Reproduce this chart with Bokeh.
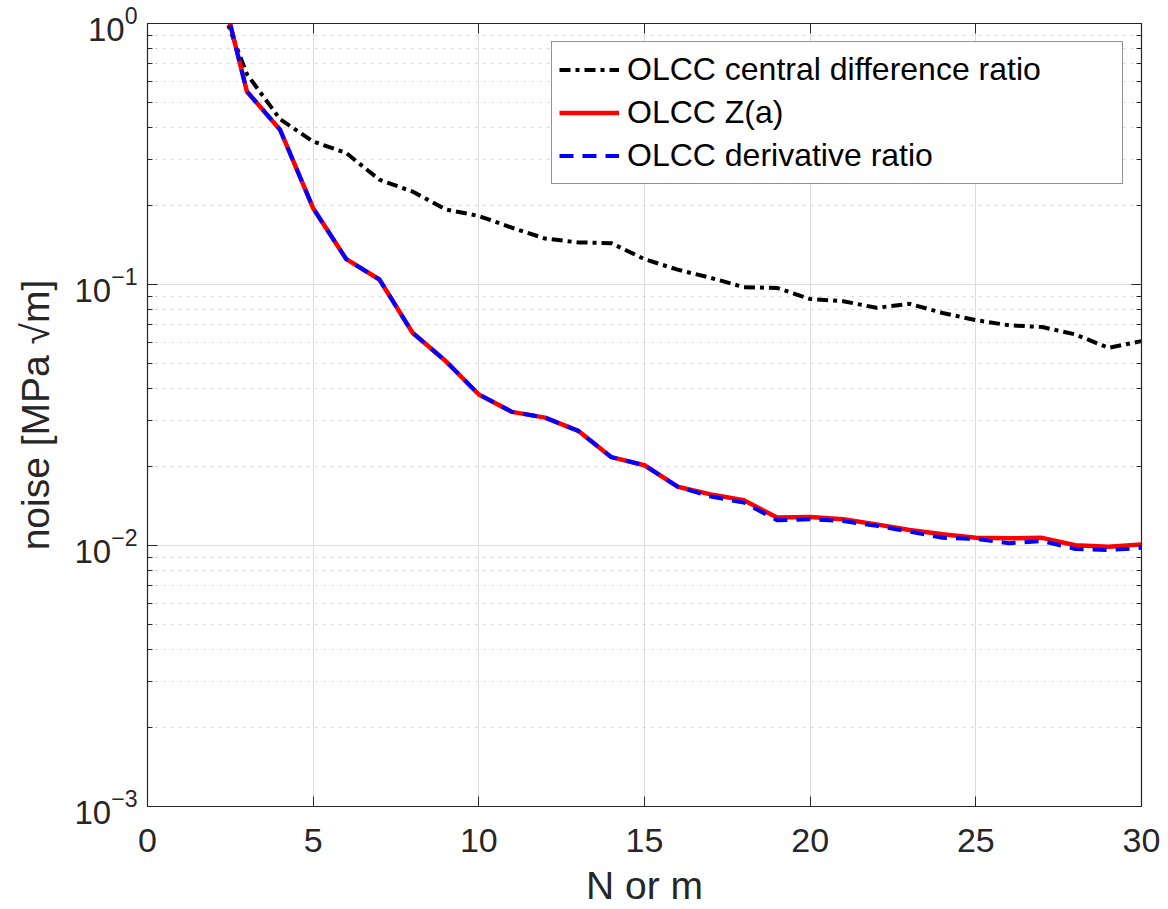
from bokeh.plotting import figure
from bokeh.models import (Range1d, FixedTicker, LogAxis, LinearAxis, LogTickFormatter,
                          CustomJSTickFormatter, Legend, LegendItem)
from bokeh.embed import file_html
from bokeh.resources import INLINE

# ---- data ----
N = list(range(2, 31))
central_diff = [1.38, 0.64, 0.43, 0.353, 0.319, 0.252, 0.227, 0.194, 0.183, 0.165,
                0.150, 0.145, 0.144, 0.125, 0.114, 0.106, 0.0977, 0.097, 0.088, 0.0863,
                0.0814, 0.0843, 0.0778, 0.073, 0.0698, 0.0687, 0.0644, 0.0572, 0.0607]
z_a = [1.78, 0.549, 0.392, 0.196, 0.125, 0.1045, 0.0653, 0.0509, 0.0379, 0.0325,
       0.0309, 0.0275, 0.0218, 0.0203, 0.0168, 0.0157, 0.0149, 0.0128, 0.01286, 0.0126,
       0.01205, 0.01147, 0.01104, 0.0107, 0.01066, 0.0107, 0.01002, 0.0099, 0.0101]
deriv = [1.78, 0.549, 0.392, 0.196, 0.125, 0.1045, 0.0653, 0.0509, 0.0379, 0.0325,
         0.0309, 0.0275, 0.0218, 0.0203, 0.0168, 0.0154, 0.0146, 0.0125, 0.0126, 0.0124,
         0.0119, 0.0113, 0.0107, 0.0106, 0.0102, 0.0104, 0.0097, 0.0096, 0.0098]
labels = ["OLCC central difference ratio", "OLCC Z(a)", "OLCC derivative ratio"]
x_ticks = [0, 5, 10, 15, 20, 25, 30]
y_major = [1e-3, 1e-2, 1e-1, 1e0]
y_minor = [k * 10.0 ** e for e in (-3, -2, -1) for k in range(2, 10)]

FONT = "Liberation Sans"
AX = "#262626"

p = figure(width=1168, height=909, y_axis_type="log",
           x_range=Range1d(0, 30), y_range=Range1d(1e-3, 1),
           output_backend="svg", toolbar_location=None,
           min_border_left=147, min_border_right=27, min_border_top=23, min_border_bottom=103)
p.background_fill_color = "white"
p.border_fill_color = "white"
p.outline_line_color = AX
p.outline_line_width = 1.2

yt = FixedTicker(ticks=y_major, minor_ticks=y_minor)
xt = FixedTicker(ticks=x_ticks)
p.yaxis.ticker = yt
p.xaxis.ticker = xt
p.yaxis.formatter = LogTickFormatter()

for ax in (p.xaxis[0], p.yaxis[0]):
    ax.axis_line_color = AX
    ax.major_tick_line_color = AX
    ax.minor_tick_line_color = AX
    ax.major_tick_in = 10
    ax.major_tick_out = 0
    ax.minor_tick_in = 5
    ax.minor_tick_out = 0
    ax.major_label_text_font = FONT
    ax.major_label_text_color = AX
    ax.axis_label_text_font = FONT
    ax.axis_label_text_font_style = "normal"
    ax.axis_label_text_color = AX
    ax.axis_label_text_font_size = "39px"

p.xaxis.major_label_text_font_size = "34px"
p.yaxis.major_label_text_font_size = "33px"
p.xaxis.axis_label = "N or m"
p.yaxis.axis_label = "noise [MPa \u221am]"
p.xaxis.major_label_standoff = 22
p.xaxis.axis_label_standoff = 9
p.yaxis.major_label_standoff = 10
p.yaxis.axis_label_standoff = 14

blank = CustomJSTickFormatter(code="return ''")
right = LogAxis(ticker=yt, formatter=blank, axis_line_color=AX,
                major_tick_line_color=AX, minor_tick_line_color=AX,
                major_tick_in=10, major_tick_out=0, minor_tick_in=5, minor_tick_out=0)
top = LinearAxis(ticker=xt, formatter=blank, axis_line_color=AX,
                 major_tick_line_color=AX, minor_tick_line_color=None,
                 major_tick_in=10, major_tick_out=0)
p.add_layout(right, "right")
p.add_layout(top, "above")

p.xgrid.grid_line_color = "#dcdcdc"
p.ygrid.grid_line_color = "#dcdcdc"
p.ygrid.minor_grid_line_color = "#cccccc"
p.ygrid.minor_grid_line_dash = "2 6"

r1 = p.line(N, central_diff, line_color="black", line_width=4, line_dash="11 5 4 5")
r2 = p.line(N, z_a, line_color="#ff0000", line_width=4.5)
r3 = p.line(N, deriv, line_color="#0000ff", line_width=4, line_dash="14 9")

legend = Legend(items=[LegendItem(label=labels[0], renderers=[r1]),
                       LegendItem(label=labels[1], renderers=[r2]),
                       LegendItem(label=labels[2], renderers=[r3])],
                location="top_right")
legend.margin = 18
legend.padding = 7
legend.spacing = 2
legend.label_text_font = FONT
legend.label_text_font_size = "32px"
legend.label_text_color = "black"
legend.label_height = 41
legend.glyph_height = 41
legend.glyph_width = 60
legend.label_width = 488
legend.label_standoff = 8
legend.border_line_color = AX
legend.border_line_width = 1
legend.background_fill_color = "white"
legend.background_fill_alpha = 1.0
p.add_layout(legend, "center")

open("out.html", "w").write(file_html(p, INLINE))
